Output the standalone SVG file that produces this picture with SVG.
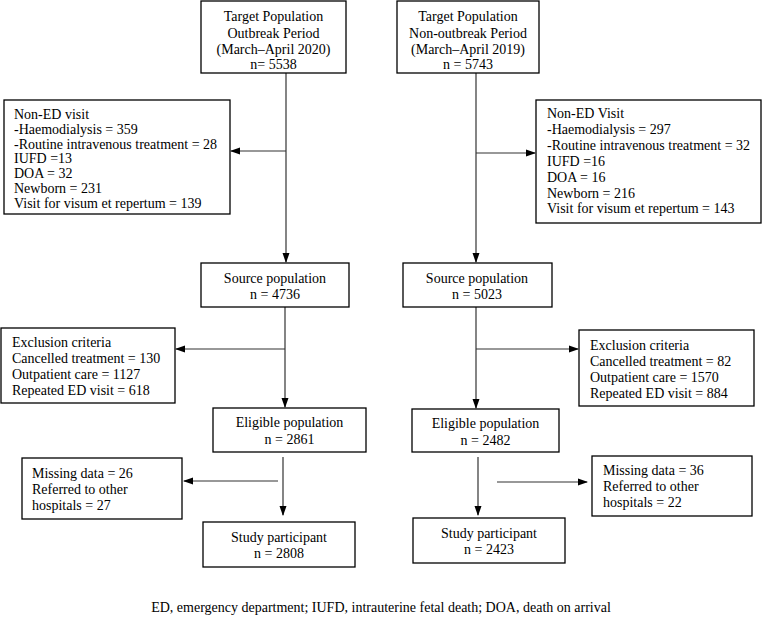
<svg xmlns="http://www.w3.org/2000/svg" width="762" height="623" viewBox="0 0 762 623" font-family="'Liberation Serif', 'Times New Roman', Tinos, serif" font-size="14">
<style>
text{fill:#000}
.c{text-anchor:middle}
rect{fill:#fff;stroke:#000;stroke-width:1.3}
.ln{stroke:#333;stroke-width:1.2;fill:none}
</style>
<defs>
<marker id="ah" markerWidth="10" markerHeight="8" refX="9" refY="4" orient="auto" markerUnits="userSpaceOnUse">
<path d="M0,0.5 L10,4 L0,7.5 Z" fill="#000"/>
</marker>
</defs>
<rect x="0" y="0" width="762" height="623" style="stroke:none"/>
<g id="connectors">
<path class="ln" d="M286,73 V262" marker-end="url(#ah)"/>
<path class="ln" d="M286,151 H231" marker-end="url(#ah)"/>
<path class="ln" d="M476,73 V262" marker-end="url(#ah)"/>
<path class="ln" d="M476,153 H535" marker-end="url(#ah)"/>
<path class="ln" d="M285,307 V407" marker-end="url(#ah)"/>
<path class="ln" d="M285,349 H176" marker-end="url(#ah)"/>
<path class="ln" d="M476,307 V408" marker-end="url(#ah)"/>
<path class="ln" d="M476,349 H578" marker-end="url(#ah)"/>
<path class="ln" d="M283,457 V515" marker-end="url(#ah)"/>
<path class="ln" d="M278,481 H184" marker-end="url(#ah)"/>
<path class="ln" d="M478,457 V515" marker-end="url(#ah)"/>
<path class="ln" d="M497,482 H587" marker-end="url(#ah)"/>
</g>
<g id="target-outbreak">
<rect x="201" y="1" width="145" height="72"/>
<text class="c" x="273.5" y="21">Target Population</text>
<text class="c" x="273.5" y="37.5">Outbreak Period</text>
<text class="c" x="273.5" y="53.5">(March–April 2020)</text>
<text class="c" x="273.5" y="68.5">n= 5538</text>
</g>
<g id="target-nonoutbreak">
<rect x="397" y="1" width="142" height="72"/>
<text class="c" x="468" y="21">Target Population</text>
<text class="c" x="468" y="37.5">Non-outbreak Period</text>
<text class="c" x="468" y="53.5">(March–April 2019)</text>
<text class="c" x="468" y="68.5">n = 5743</text>
</g>
<g id="nonED-left">
<rect x="4" y="100" width="226" height="114"/>
<text x="14" y="119">Non-ED visit</text>
<text x="14" y="133.8">-Haemodialysis = 359</text>
<text x="14" y="148.6">-Routine intravenous treatment = 28</text>
<text x="14" y="163.4">IUFD =13</text>
<text x="14" y="178.2">DOA = 32</text>
<text x="14" y="193">Newborn = 231</text>
<text x="14" y="207.8">Visit for visum et repertum = 139</text>
</g>
<g id="nonED-right">
<rect x="536" y="100" width="225" height="123"/>
<text x="547" y="118">Non-ED Visit</text>
<text x="547" y="133.9">-Haemodialysis = 297</text>
<text x="547" y="149.8">-Routine intravenous treatment = 32</text>
<text x="547" y="165.7">IUFD =16</text>
<text x="547" y="181.6">DOA = 16</text>
<text x="547" y="197.5">Newborn = 216</text>
<text x="547" y="213.4">Visit for visum et repertum = 143</text>
</g>
<g id="source-left">
<rect x="201" y="263" width="148" height="44"/>
<text class="c" x="275" y="283">Source population</text>
<text class="c" x="275" y="299">n = 4736</text>
</g>
<g id="source-right">
<rect x="403" y="263" width="149" height="44"/>
<text class="c" x="477" y="283">Source population</text>
<text class="c" x="477" y="299">n = 5023</text>
</g>
<g id="exclusion-left">
<rect x="1" y="328" width="174" height="75"/>
<text x="12" y="347">Exclusion criteria</text>
<text x="12" y="363">Cancelled treatment = 130</text>
<text x="12" y="379">Outpatient care = 1127</text>
<text x="12" y="395">Repeated ED visit = 618</text>
</g>
<g id="exclusion-right">
<rect x="579" y="330" width="175" height="76"/>
<text x="590" y="350">Exclusion criteria</text>
<text x="590" y="366">Cancelled treatment = 82</text>
<text x="590" y="382">Outpatient care = 1570</text>
<text x="590" y="398">Repeated ED visit = 884</text>
</g>
<g id="eligible-left">
<rect x="213" y="408" width="153" height="44"/>
<text class="c" x="289.5" y="427">Eligible population</text>
<text class="c" x="289.5" y="444">n = 2861</text>
</g>
<g id="eligible-right">
<rect x="412" y="409" width="147" height="43"/>
<text class="c" x="485.5" y="428">Eligible population</text>
<text class="c" x="485.5" y="445">n = 2482</text>
</g>
<g id="missing-left">
<rect x="22" y="458" width="160" height="61"/>
<text x="32" y="478">Missing data = 26</text>
<text x="32" y="494">Referred to other</text>
<text x="32" y="510">hospitals = 27</text>
</g>
<g id="missing-right">
<rect x="592" y="456" width="160" height="60"/>
<text x="603" y="475">Missing data = 36</text>
<text x="603" y="491">Referred to other</text>
<text x="603" y="507">hospitals = 22</text>
</g>
<g id="study-left">
<rect x="203" y="522" width="152" height="45"/>
<text class="c" x="279" y="542">Study participant</text>
<text class="c" x="279" y="558">n = 2808</text>
</g>
<g id="study-right">
<rect x="413" y="518" width="152" height="45"/>
<text class="c" x="489" y="538">Study participant</text>
<text class="c" x="489" y="554">n = 2423</text>
</g>
<text class="c" x="381" y="612">ED, emergency department; IUFD, intrauterine fetal death; DOA, death on arrival</text>
</svg>
